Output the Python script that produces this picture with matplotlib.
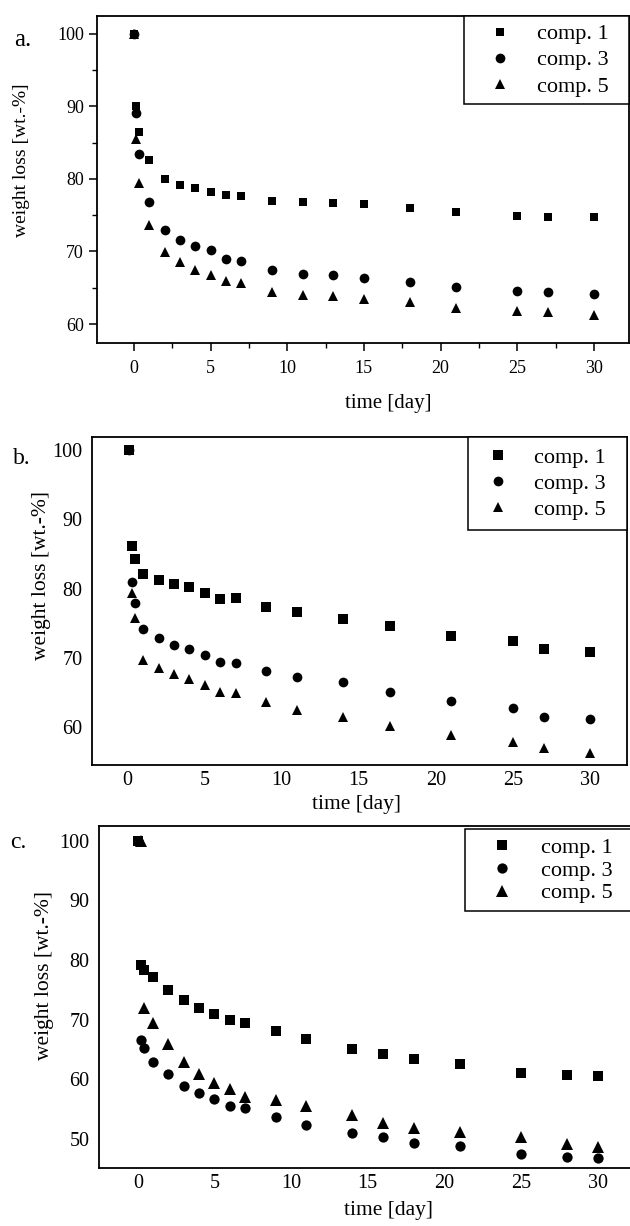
import matplotlib
matplotlib.use('Agg')
import matplotlib.pyplot as plt
from matplotlib.ticker import MultipleLocator

plt.rcParams['font.family'] = ['Liberation Serif', 'DejaVu Serif']

W, H = 630, 1226
labels = ['comp. 1', 'comp. 3', 'comp. 5']
xticks = [0, 5, 10, 15, 20, 25, 30]

# ---- panel a ----
a_t = [0, 0.16, 0.32, 1, 2, 3, 4, 5, 6, 7, 9, 11, 13, 15, 18, 21, 25, 27, 30]
a_c1 = [100, 90.0, 86.5, 82.6, 80.0, 79.2, 78.7, 78.2, 77.8, 77.6, 77.0, 76.8, 76.7, 76.5, 76.0, 75.4, 74.9, 74.7, 74.7]
a_c3 = [100, 89.1, 83.4, 76.8, 73.0, 71.6, 70.7, 70.2, 69.0, 68.7, 67.4, 66.9, 66.8, 66.4, 65.8, 65.1, 64.6, 64.4, 64.1]
a_c5 = [100, 85.5, 79.5, 73.7, 69.9, 68.5, 67.4, 66.8, 65.9, 65.7, 64.4, 64.0, 63.9, 63.5, 63.1, 62.2, 61.8, 61.6, 61.3]
a_yticks = [60, 70, 80, 90, 100]

# ---- panel b ----
b_t = [0.1, 0.3, 0.5, 1, 2, 3, 4, 5, 6, 7, 9, 11, 14, 17, 21, 25, 27, 30]
b_c1 = [100, 86.2, 84.2, 82.1, 81.3, 80.7, 80.2, 79.4, 78.5, 78.7, 77.4, 76.6, 75.6, 74.6, 73.2, 72.4, 71.2, 70.9]
b_c3 = [100, 81.0, 77.9, 74.1, 72.8, 71.9, 71.3, 70.4, 69.4, 69.3, 68.1, 67.2, 66.5, 65.1, 63.7, 62.7, 61.4, 61.1]
b_c5 = [100, 79.4, 75.8, 69.7, 68.5, 67.6, 66.9, 66.0, 65.1, 64.9, 63.6, 62.5, 61.4, 60.2, 58.9, 57.8, 56.9, 56.2]
b_yticks = [60, 70, 80, 90, 100]

# ---- panel c ----
c_t13 = [0, 0.2, 0.4, 1, 2, 3, 4, 5, 6, 7, 9, 11, 14, 16, 18, 21, 25, 28, 30]
c_c1 = [100, 79.2, 78.3, 77.1, 74.9, 73.3, 71.9, 71.0, 69.9, 69.4, 68.1, 66.7, 65.1, 64.2, 63.4, 62.6, 61.1, 60.7, 60.5]
c_c3 = [100, 66.5, 65.2, 62.9, 60.9, 58.9, 57.7, 56.7, 55.5, 55.1, 53.6, 52.4, 51.0, 50.3, 49.3, 48.8, 47.4, 47.0, 46.8]
c_t5 = [0.2, 0.4, 1, 2, 3, 4, 5, 6, 7, 9, 11, 14, 16, 18, 21, 25, 28, 30]
c_c5 = [100, 72.0, 69.4, 65.9, 62.9, 60.9, 59.3, 58.4, 57.1, 56.5, 55.5, 54.0, 52.6, 51.8, 51.1, 50.3, 49.1, 48.7]
c_yticks = [50, 60, 70, 80, 90, 100]

fig = plt.figure(figsize=(W / 100, H / 100), dpi=100)


def axes_px(left, right, top, bottom):
    return fig.add_axes([left / W, 1 - bottom / H, (right - left) / W, (bottom - top) / H])


def style(ax, xlim, ylim, yticks, ticks_visible, fs):
    ax.set_xlim(*xlim)
    ax.set_ylim(*ylim)
    ax.set_xticks(xticks)
    ax.set_yticks(yticks)
    for s in ax.spines.values():
        s.set_linewidth(1.3)
        s.set_color('black')
    if ticks_visible:
        ax.xaxis.set_minor_locator(MultipleLocator(2.5))
        ax.yaxis.set_minor_locator(MultipleLocator(5))
        ax.tick_params(which='major', direction='out', length=5.5, width=1.1,
                       labelsize=fs, pad=7)
        ax.tick_params(which='minor', direction='out', length=3.5, width=1.0)
        ax.tick_params(axis='y', pad=4)
    else:
        ax.tick_params(which='both', length=0, labelsize=fs)
        ax.tick_params(axis='y', pad=7)
        ax.tick_params(axis='x', pad=4)


def plot_series(ax, series, order):
    handles = {}
    for i in order:
        t, v, m, ms = series[i]
        h, = ax.plot(t, v, linestyle='none', marker=m, markersize=ms,
                     color='black', markeredgewidth=0)
        handles[i] = h
    return [handles[i] for i in range(3)]


def add_legend(ax, handles, x0_frac, fs, bpad, hlen, htp, lsp, ytop=1.0):
    leg = ax.legend(handles=handles, labels=labels, loc='upper right',
                    bbox_to_anchor=(x0_frac, 0, 1 - x0_frac, ytop), mode='expand',
                    borderaxespad=0, fancybox=False, framealpha=1, edgecolor='black',
                    fontsize=fs, borderpad=bpad, handlelength=hlen, handletextpad=htp,
                    labelspacing=lsp, numpoints=1)
    leg.get_frame().set_linewidth(1.1)
    return leg


# Panel a
ax_a = axes_px(97, 629, 16, 343)
h_a = plot_series(ax_a, [(a_t, a_c1, 's', 6.4), (a_t, a_c3, 'o', 7.0),
                         (a_t, a_c5, '^', 7.4)], [2, 1, 0])
style(ax_a, (-2.41, 32.29), (57.38, 102.48), a_yticks, True, 13)
add_legend(ax_a, h_a, (464 - 97) / 532, 16, 0.35, 2.54, 0.4, 0.25)
fig.text(388 / W, 1 - 404 / H, 'time [day]', ha='center', va='center', fontsize=15)
fig.text(22 / W, 1 - 160 / H, 'weight loss [wt.-%]', ha='center', va='center',
         rotation=90, fontsize=14)
fig.text(23 / W, 1 - 40 / H, 'a.', ha='center', va='center', fontsize=18)

# Panel b
ax_b = axes_px(92, 627, 437, 765)
h_b = plot_series(ax_b, [(b_t, b_c1, 's', 6.5), (b_t, b_c3, 'o', 7.0),
                         (b_t, b_c5, '^', 7.5)], [0, 1, 2])
style(ax_b, (-2.32, 32.42), (54.5, 101.9), b_yticks, False, 14.5)
add_legend(ax_b, h_b, (468 - 92) / 535, 16, 0.45, 1.8, 0.72, 0.25)
fig.text(357 / W, 1 - 805 / H, 'time [day]', ha='center', va='center', fontsize=15.5)
fig.text(42 / W, 1 - 575 / H, 'weight loss [wt.-%]', ha='center', va='center',
         rotation=90, fontsize=15.5)
fig.text(22 / W, 1 - 459 / H, 'b.', ha='center', va='center', fontsize=17)

# Panel c
ax_c = axes_px(99, 633, 826, 1168)
h_c = plot_series(ax_c, [(c_t13, c_c1, 's', 6.8), (c_t13, c_c3, 'o', 7.4),
                         (c_t5, c_c5, '^', 8.0)], [0, 1, 2])
style(ax_c, (-2.53, 32.3), (45.1, 102.5), c_yticks, False, 14.5)
add_legend(ax_c, h_c, (465 - 99) / 534, 16, 0.35, 2.63, 0.44, 0.1, ytop=0.99)
fig.text(388 / W, 1 - 1210 / H, 'time [day]', ha='center', va='center', fontsize=15.5)
fig.text(45 / W, 1 - 976 / H, 'weight loss [wt.-%]', ha='center', va='center',
         rotation=90, fontsize=15.5)
fig.text(18 / W, 1 - 843 / H, 'c.', ha='center', va='center', fontsize=17)

fig.savefig('out.png', dpi=100)
